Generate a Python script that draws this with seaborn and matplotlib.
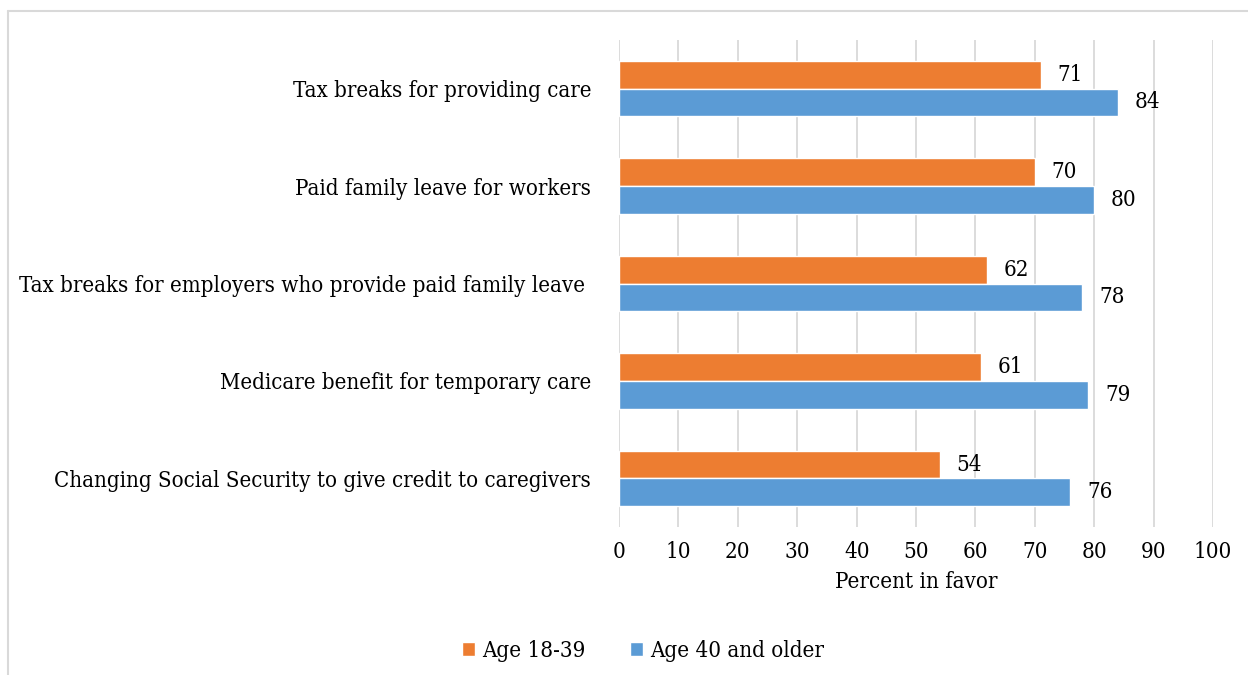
import pandas as pd
import seaborn as sns
import matplotlib.pyplot as plt
from matplotlib.lines import Line2D

categories = ["Tax breaks for providing care",
              "Paid family leave for workers",
              "Tax breaks for employers who provide paid family leave ",
              "Medicare benefit for temporary care",
              "Changing Social Security to give credit to caregivers"]
young = [71, 70, 62, 61, 54]
older = [84, 80, 78, 79, 76]
groups = ["Age 18-39", "Age 40 and older"]
colors = ["#ED7D31", "#5B9BD5"]

df = pd.DataFrame({
    "item": categories * 2,
    "value": young + older,
    "group": [groups[0]] * 5 + [groups[1]] * 5,
})

sns.set_style("white")
plt.rcParams["font.family"] = ["DejaVu Serif"]
plt.rcParams["font.stretch"] = "condensed"
plt.rcParams["text.color"] = "black"
plt.rcParams["xtick.color"] = "black"
plt.rcParams["ytick.color"] = "black"
plt.rcParams["axes.labelcolor"] = "black"

fig = plt.figure(figsize=(12.48, 6.75), dpi=100)
ax = fig.add_axes([0.496, 0.219, 0.476, 0.722])

sns.barplot(data=df, x="value", y="item", hue="group", orient="h",
            palette=colors, width=0.57, ax=ax, saturation=1)

for c in ax.containers:
    ax.bar_label(c, padding=12, fontsize=16)

ax.set_xlim(0, 100)
ax.set_xticks(range(0, 101, 10))
ax.grid(axis="x", color="#d9d9d9", linewidth=1.3)
ax.set_axisbelow(True)
for s in ax.spines.values():
    s.set_visible(False)
ax.tick_params(axis="x", labelsize=16, pad=10, length=0)
ax.tick_params(axis="y", labelsize=15.9, pad=20, length=0)
ax.set_xlabel("Percent in favor", fontsize=16, labelpad=6)
ax.set_ylabel("")

ax.legend(loc="upper center", bbox_to_anchor=(0.04, -0.19), ncol=2, frameon=False,
          fontsize=16, handlelength=0.6, handleheight=0.6, handletextpad=0.3,
          columnspacing=2.0, bbox_transform=ax.transAxes)

# outer chart frame
fig.add_artist(Line2D([8 / 1248, 8 / 1248], [0, 1 - 11 / 675], color="#d9d9d9", lw=1.5))
fig.add_artist(Line2D([8 / 1248, 1], [1 - 11 / 675, 1 - 11 / 675], color="#d9d9d9", lw=1.5))

fig.savefig("out.png", dpi=100)
